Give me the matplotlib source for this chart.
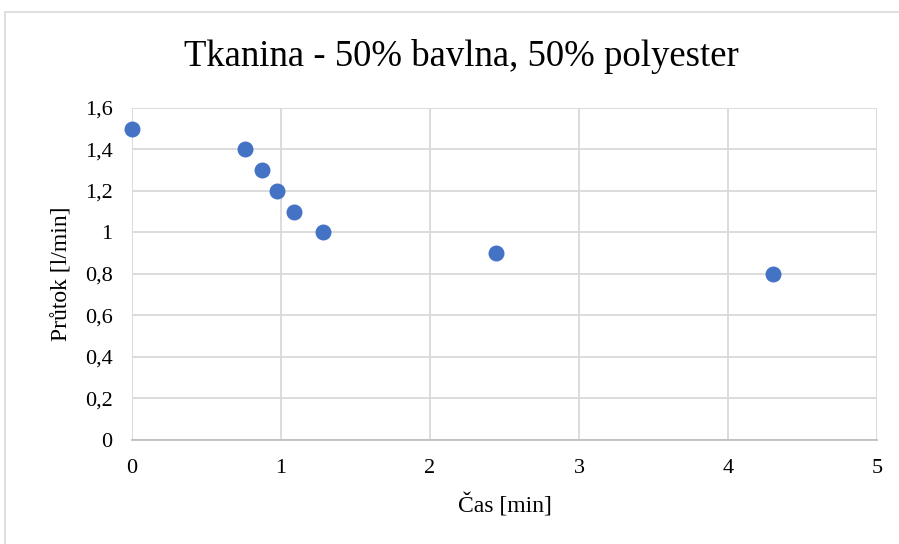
import matplotlib.pyplot as plt
from matplotlib.patches import Rectangle
from matplotlib.ticker import FuncFormatter

# Data
cas = [0.0, 0.76, 0.87, 0.97, 1.09, 1.28, 2.44, 4.30]
prutok = [1.5, 1.4, 1.3, 1.2, 1.1, 1.0, 0.9, 0.8]

x_ticks = [0, 1, 2, 3, 4, 5]
y_ticks = [0, 0.2, 0.4, 0.6, 0.8, 1.0, 1.2, 1.4, 1.6]

plt.rcParams['font.family'] = ['Liberation Serif', 'DejaVu Serif']

fig = plt.figure(figsize=(8.99, 5.44), dpi=100)
ax = fig.add_axes([0.1468, 0.1912, 0.8287, 0.6103])

# outer chart frame (Excel style)
fig.patches.append(Rectangle((5 / 899, -0.1), 1.2, 1 - 12 / 544 + 0.1,
                             transform=fig.transFigure, fill=False,
                             edgecolor='#d9d9d9', linewidth=1.2))

ax.scatter(cas, prutok, s=110, color='#4472C4', zorder=3, clip_on=False)

ax.set_xlim(0, 5)
ax.set_ylim(0, 1.6)
ax.set_xticks(x_ticks)
ax.set_yticks(y_ticks)
ax.yaxis.set_major_formatter(FuncFormatter(lambda v, p: f"{v:g}".replace('.', ',')))
ax.grid(True, color='#d9d9d9', linewidth=1.3)
ax.set_axisbelow(True)
for side in ['top', 'right', 'left']:
    ax.spines[side].set_visible(False)
ax.spines['bottom'].set_color('#bfbfbf')
ax.spines['bottom'].set_linewidth(1.3)
ax.tick_params(length=0, labelsize=16)
ax.tick_params(axis='x', pad=14)
ax.tick_params(axis='y', pad=14)

fig.text(0.513, 1 - 57 / 544, "Tkanina - 50% bavlna, 50% polyester",
         fontsize=26.5, ha='center', va='center')
ax.set_xlabel("Čas [min]", fontsize=17, labelpad=11)
ax.set_ylabel("Průtok [l/min]", fontsize=17, labelpad=9)

plt.savefig("out.png", dpi=100)
